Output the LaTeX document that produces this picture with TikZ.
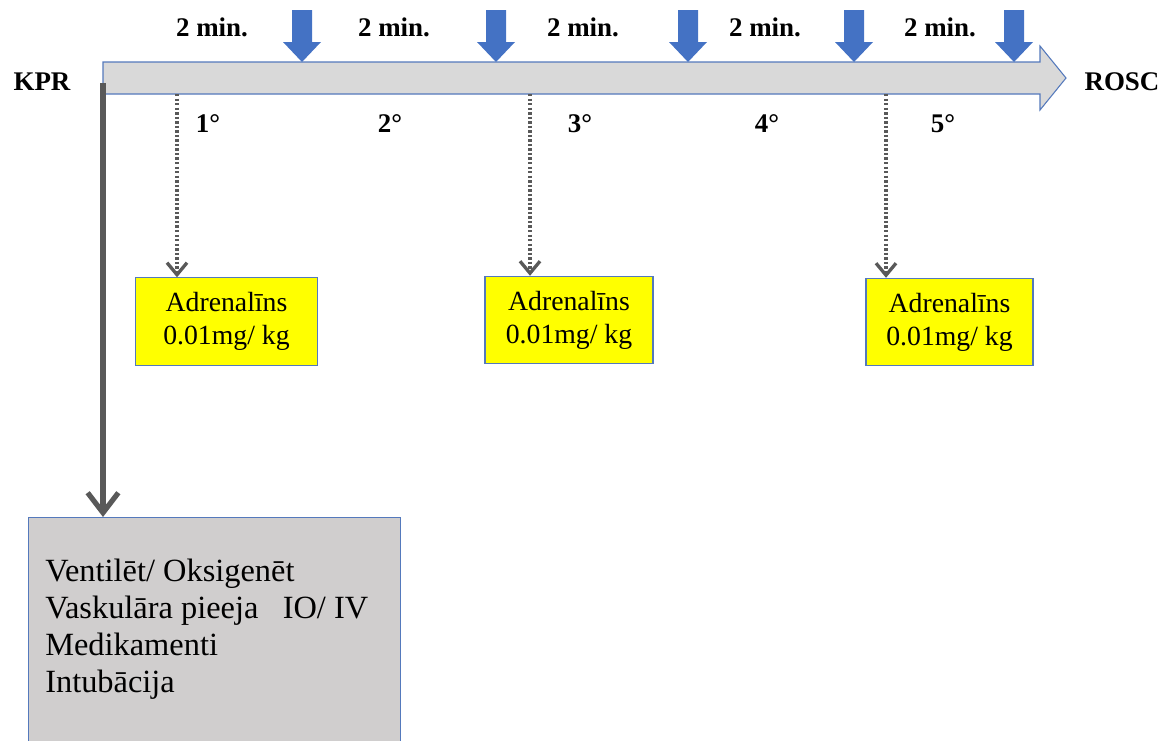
\documentclass[tikz,border=0pt]{standalone}
\usepackage{fontspec}
\setmainfont{Liberation Serif}
\usetikzlibrary{arrows.meta}
\definecolor{shockblue}{HTML}{4472C4}
\definecolor{axisgray}{HTML}{D9D9D9}
\definecolor{edgeblue}{HTML}{5479BC}
\definecolor{doseyellow}{HTML}{FFFF00}
\definecolor{taskgray}{HTML}{D0CECE}
\definecolor{flowgray}{HTML}{595959}
\tikzset{
  lbl/.style={font=\fontsize{20.2}{23}\selectfont\bfseries, inner sep=0pt},
  timeaxis/.style={draw=edgeblue, fill=axisgray, line width=.8pt, line join=miter},
  shock/.style={fill=shockblue},
  dose/.style={draw=edgeblue, fill=doseyellow, line width=.8pt, align=center,
    font=\fontsize{20.8}{24.75}\selectfont, minimum width=#1, minimum height=65.5pt, inner sep=0pt},
  task/.style={draw=edgeblue, fill=taskgray, line width=.8pt, minimum width=279pt, minimum height=200pt, inner sep=0pt},
  tasktext/.style={align=left, font=\fontsize{24.3}{27.75}\selectfont, inner sep=0pt},
  doseflow/.style={draw=flowgray, line width=2.3pt, dash pattern=on 1.8pt off 1.6pt,
    -{Straight Barb[length=9pt, width=15pt, line width=2.5pt]}},
  mainflow/.style={draw=flowgray, line width=3.9pt, -{Straight Barb[length=15pt, width=23pt]}}
}
\begin{document}
\begin{tikzpicture}[x=.75pt, y=-.75pt]
	\useasboundingbox (0,0) rectangle (1171,740);
	% time axis
	\draw[timeaxis] (103,62) -- (1040,62) -- (1040,46) -- (1066,78) -- (1040,110) -- (1040,94) -- (103,94) -- cycle;
	% shocks every 2 min.
	\fill[shock] (302,62)  -- ++(-19,-20) -- ++(9,0) -- ++(0,-32) -- ++(20,0) -- ++(0,32) -- ++(9,0) -- cycle;
	\fill[shock] (496,62)  -- ++(-19,-20) -- ++(9,0) -- ++(0,-32) -- ++(20,0) -- ++(0,32) -- ++(9,0) -- cycle;
	\fill[shock] (688,62)  -- ++(-19,-20) -- ++(9,0) -- ++(0,-32) -- ++(20,0) -- ++(0,32) -- ++(9,0) -- cycle;
	\fill[shock] (854,62)  -- ++(-19,-20) -- ++(9,0) -- ++(0,-32) -- ++(20,0) -- ++(0,32) -- ++(9,0) -- cycle;
	\fill[shock] (1014,62) -- ++(-19,-20) -- ++(9,0) -- ++(0,-32) -- ++(20,0) -- ++(0,32) -- ++(9,0) -- cycle;
	\node[lbl] (min1) at (212,27) {2 min.};
	\node[lbl] (min2) at (394,27) {2 min.};
	\node[lbl] (min3) at (583,27) {2 min.};
	\node[lbl] (min4) at (765,27) {2 min.};
	\node[lbl] (min5) at (940,27) {2 min.};
	\node[lbl] (kpr)  at (42,82)   {KPR};
	\node[lbl] (rosc) at (1122,82) {ROSC};
	% cycles
	\node[lbl] (cyc1) at (208,124) {1°};
	\node[lbl] (cyc2) at (390,124) {2°};
	\node[lbl] (cyc3) at (580,124) {3°};
	\node[lbl] (cyc4) at (767,124) {4°};
	\node[lbl] (cyc5) at (943,124) {5°};
	% adrenaline
	\node[dose=136.5pt] (dose1) at (226.5,321.5) {Adrenalīns\\0.01mg/ kg};
	\node[dose=126pt]   (dose3) at (569,320)     {Adrenalīns\\0.01mg/ kg};
	\node[dose=125.25pt](dose5) at (949.5,322)   {Adrenalīns\\0.01mg/ kg};
	\coordinate (from1) at (177,94);
	\coordinate (from3) at (530,94);
	\coordinate (from5) at (886,94);
	\draw[doseflow] (from1) -- (from1 |- dose1.north);
	\draw[doseflow] (from3) -- (from3 |- dose3.north);
	\draw[doseflow] (from5) -- (from5 |- dose5.north);
	% tasks during CPR
	\node[task, anchor=north west] (tasks) at (28,517) {};
	\node[tasktext, anchor=base west] (tasklist) at (45,692)
		{Ventilēt/ Oksigenēt\\Vaskulāra pieeja~~~IO/ IV\\Medikamenti\\Intubācija};
	\coordinate (start) at (103,83);
	\draw[mainflow] (start) -- (start |- tasks.north);
\end{tikzpicture}
\end{document}
